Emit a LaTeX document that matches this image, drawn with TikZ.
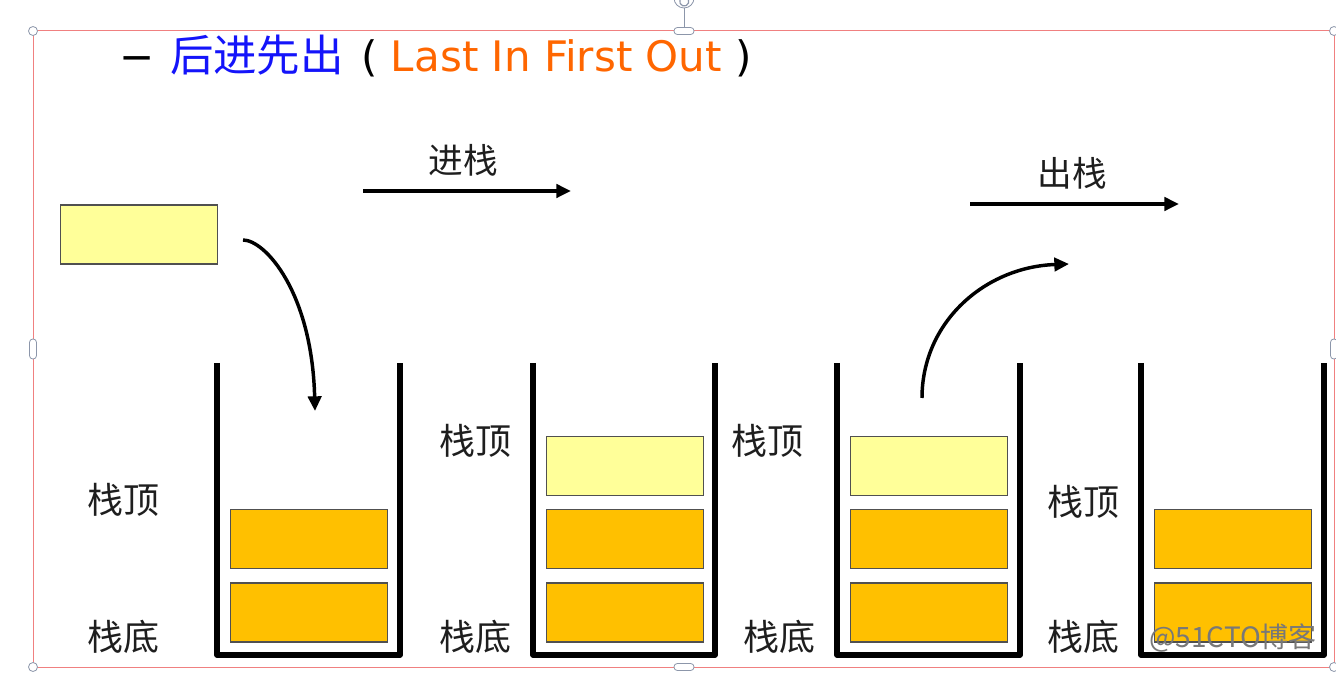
\documentclass[tikz,border=0pt]{standalone}
\usepackage{fontspec}
\setmainfont{DejaVu Sans}
\newfontfamily\cjkfont{Noto Sans CJK SC}
\usetikzlibrary{arrows.meta}

\definecolor{itemyellow}{RGB}{255,255,153}
\definecolor{itemorange}{RGB}{255,192,0}
\definecolor{titleblue}{RGB}{20,20,250}
\definecolor{titleorange}{RGB}{255,102,0}
\definecolor{selred}{RGB}{240,128,128}
\definecolor{selgray}{RGB}{140,150,170}

\tikzset{every picture/.style={line width=0.75pt}}
\tikzset{
stackwall/.style={line width=4.2pt, line join=round},
itembox/.style={draw={rgb, 255:red, 80; green, 80; blue, 80}, line width=1.1pt, minimum width=117.5pt, minimum height=44pt, inner sep=0pt},
flowarrow/.style={line width=2.6pt, -{Triangle[length=11pt,width=10pt]}},
stacklabel/.style={inner sep=0pt, text={rgb, 255:red, 30; green, 30; blue, 30}, font=\cjkfont\fontsize{27pt}{30pt}\selectfont},
handlebox/.style={draw=selgray, fill=white, line width=0.6pt, rounded corners=2.5pt}}

\begin{document}
\begin{tikzpicture}[x=0.75pt,y=0.75pt,yscale=-1,xscale=1]
\useasboundingbox (0,0) rectangle (1336,673);

%Selection frame
\draw [selred, line width=0.75pt] (33,31) rectangle (1334,667);
\draw [selgray, line width=0.75pt] (684,8) -- (684,27);
\draw [handlebox] (684,-2) circle (10);
\draw [selgray, line width=0.9pt] (680,0) arc (200:-60:4.5);
\draw [handlebox] (674,27.5) rectangle (694,34.5);
\draw [handlebox] (674,663.5) rectangle (694,670.5);
\draw [handlebox] (29.5,339) rectangle (36.5,359);
\draw [handlebox] (1330.5,339) rectangle (1337.5,359);
\foreach \cx/\cy in {33/31, 33/667, 1334/31, 1334/667}
  \draw [draw=selgray, fill=white, line width=0.6pt] (\cx,\cy) circle (4.5);

% Title
\node (title) [anchor=base west, inner sep=0pt, font=\fontsize{31.5pt}{36pt}\selectfont] at (119,72)
  {−\ \hspace{1.5pt}{\cjkfont\fontsize{32.6pt}{36pt}\selectfont\color{titleblue}后进先出}\hspace{3pt} ( {\color{titleorange}Last In First Out} )};

% Loose item
\node (newitem) [itembox, fill=itemyellow] at (139,234.5) {};

% Stack 1
\draw [stackwall] (217,363) -- (217,655) -- (400,655) -- (400,363);
\node (s1b) [itembox, fill=itemorange] at (309,612.5) {};
\node (s1a) [itembox, fill=itemorange] at (309,539) {};
\node (s1top) [stacklabel] at (123,500) {栈顶};
\node (s1bot) [stacklabel] at (123,637) {栈底};

% Stack 2
\draw [stackwall] (533,363) -- (533,655) -- (715,655) -- (715,363);
\node (s2b) [itembox, fill=itemorange] at (625,612.5) {};
\node (s2a) [itembox, fill=itemorange] at (625,539) {};
\node (s2c) [itembox, fill=itemyellow] at (625,466) {};
\node (s2top) [stacklabel] at (475,441) {栈顶};
\node (s2bot) [stacklabel] at (475,637) {栈底};

% Stack 3
\draw [stackwall] (837,363) -- (837,655) -- (1020,655) -- (1020,363);
\node (s3b) [itembox, fill=itemorange] at (929,612.5) {};
\node (s3a) [itembox, fill=itemorange] at (929,539) {};
\node (s3c) [itembox, fill=itemyellow] at (929,466) {};
\node (s3top) [stacklabel] at (767,441) {栈顶};
\node (s3bot) [stacklabel] at (779,637) {栈底};

% Stack 4
\draw [stackwall] (1141,363) -- (1141,655) -- (1324,655) -- (1324,363);
\node (s4b) [itembox, fill=itemorange] at (1233,612.5) {};
\node (s4a) [itembox, fill=itemorange] at (1233,539) {};
\node (s4top) [stacklabel] at (1083,502) {栈顶};
\node (s4bot) [stacklabel] at (1083,637) {栈底};

% Push / pop arrows
\coordinate (pushstart) at (243,240);
\coordinate (pushend) at (315,411);
\draw [flowarrow] (pushstart) .. controls (265,240) and (312,292) .. (pushend);
\coordinate (popstart) at (922,398);
\coordinate (popend) at (1069,264);
\draw [flowarrow] (popstart) .. controls (922,322) and (985,267) .. (popend);

\coordinate (inA) at (363,191);
\coordinate (inB) at (571,191);
\draw [flowarrow] (inA) -- (inB);
\node (inlabel) [stacklabel, font=\cjkfont\fontsize{26pt}{30pt}\selectfont] at (463,160) {进栈};
\coordinate (outA) at (970,204);
\coordinate (outB) at (1179,204);
\draw [flowarrow] (outA) -- (outB);
\node (outlabel) [stacklabel, font=\cjkfont\fontsize{26pt}{30pt}\selectfont] at (1072,173) {出栈};

% Watermark
\node (mark) [inner sep=0pt, text={rgb, 255:red, 120; green, 120; blue, 120}, font=\cjkfont\fontsize{21pt}{24pt}\selectfont] at (1233,638) {@51CTO博客};

\end{tikzpicture}
\end{document}
